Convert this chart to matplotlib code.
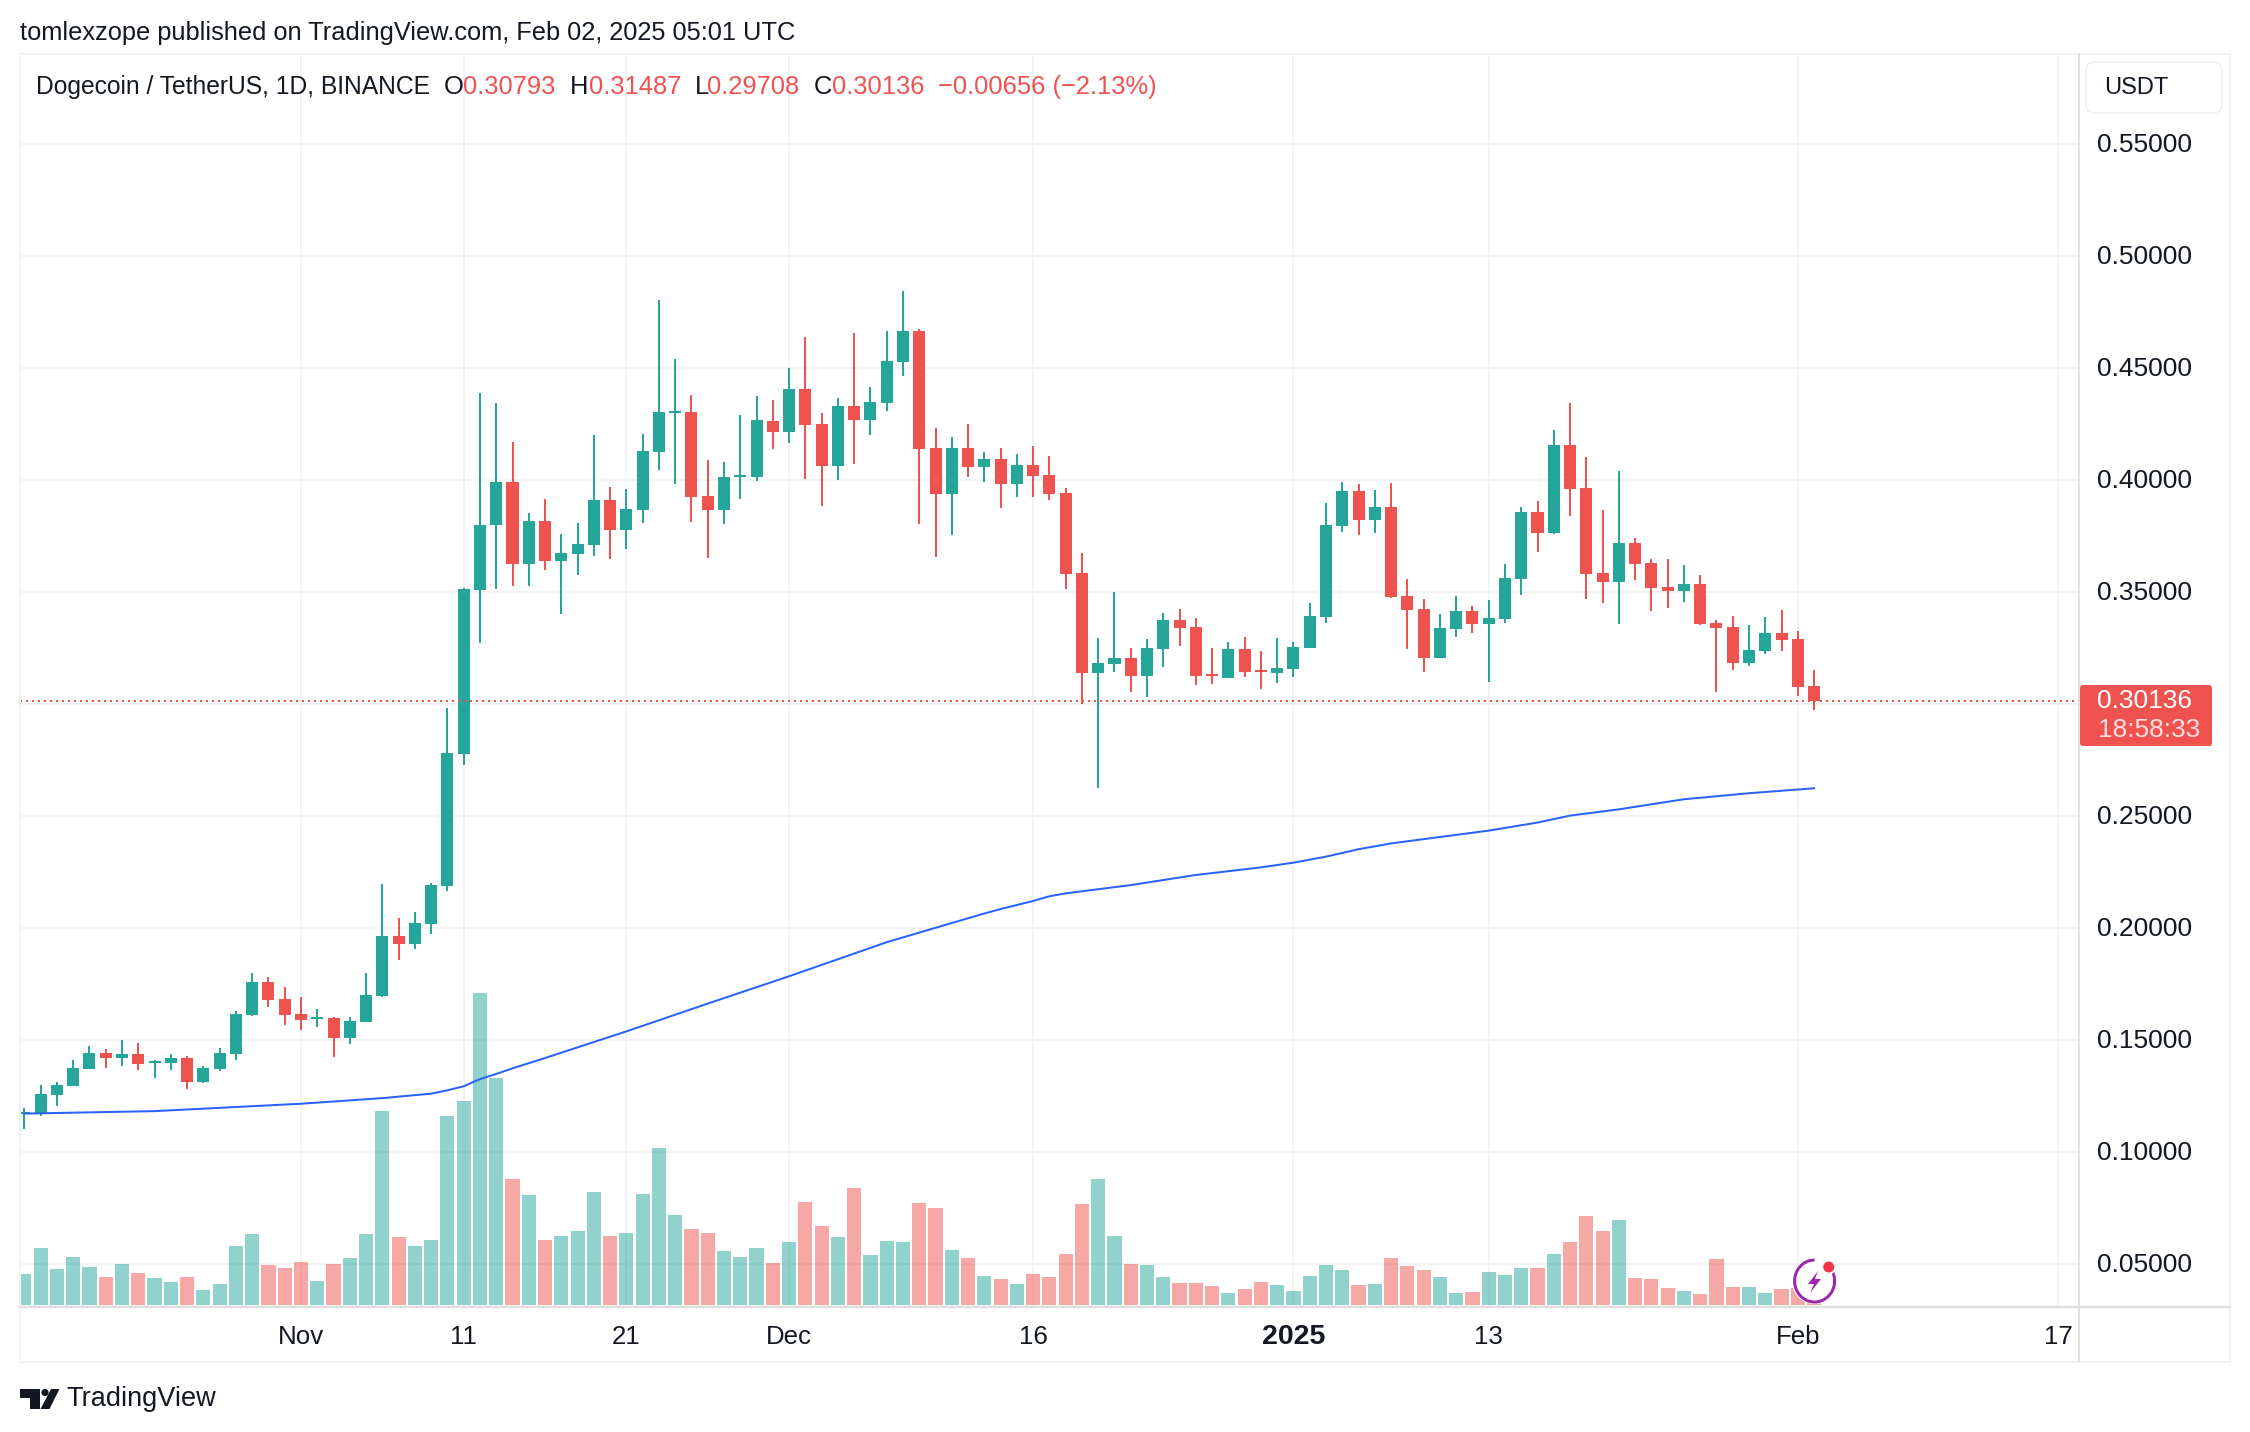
import numpy as np
import matplotlib
matplotlib.use("Agg")
import matplotlib.pyplot as plt
from matplotlib.patches import FancyBboxPatch, Polygon, Circle, Arc, Rectangle

opens = [.1166,.1166,.1252,.1292,.1369,.1440,.1418,.1435,.1398,.1395,
         .1418,.1311,.1369,.1435,.1609,.1756,.1682,.1614,.1594,.1596,
         .1506,.1579,.1695,.1962,.1927,.2017,.2187,.2777,.3507,.3798,
         .3990,.3624,.3815,.3637,.3668,.3708,.3909,.3775,.3865,.4124,
         .4298,.4302,.3927,.3865,.4012,.4012,.4262,.4213,.4405,.4249,
         .4061,.4329,.4266,.4342,.4525,.4664,.4141,.3936,.4141,.4057,
         .4092,.3981,.4065,.4021,.3940,.3583,.3137,.3177,.3204,.3124,
         .3244,.3374,.3342,.3132,.3115,.3244,.3150,.3137,.3155,.3249,
         .3387,.3793,.3949,.3820,.3878,.3481,.3423,.3204,.3333,.3414,
         .3356,.3378,.3557,.3856,.3762,.4155,.3963,.3583,.3543,.3717,
         .3628,.3521,.3503,.3534,.3360,.3342,.3182,.3235,.3316,.3289,.30793]
closes = [.1175,.1257,.1297,.1373,.1440,.1418,.1435,.1390,.1405,.1418,
          .1311,.1373,.1440,.1614,.1756,.1677,.1609,.1587,.1601,.1506,
          .1582,.1698,.1962,.1927,.2020,.2191,.2781,.3512,.3798,.3990,
          .3624,.3815,.3637,.3673,.3713,.3909,.3775,.3869,.4128,.4302,
          .4307,.3923,.3865,.4012,.4021,.4266,.4213,.4405,.4244,.4061,
          .4329,.4266,.4347,.4530,.4664,.4137,.3936,.4141,.4057,.4092,
          .3981,.4065,.4016,.3936,.3579,.3137,.3182,.3204,.3124,.3249,
          .3374,.3338,.3124,.3124,.3244,.3141,.3141,.3159,.3253,.3391,
          .3798,.3949,.3820,.3878,.3476,.3418,.3204,.3338,.3414,.3356,
          .3382,.3561,.3856,.3762,.4155,.3958,.3579,.3543,.3717,.3624,
          .3516,.3503,.3534,.3356,.3338,.3182,.3240,.3316,.3284,.3074,.30136]
highs = [.1195,.1297,.1309,.1408,.1471,.1458,.1498,.1485,.1408,.1435,
         .1427,.1382,.1463,.1627,.1798,.1780,.1735,.1690,.1637,.1601,
         .1601,.1798,.2194,.2043,.2070,.2201,.2980,.3516,.4387,.4342,
         .4168,.3851,.3914,.3757,.3807,.4199,.3967,.3958,.4204,.4802,
         .4539,.4378,.4088,.4079,.4289,.4373,.4356,.4498,.4637,.4298,
         .4365,.4655,.4414,.4664,.4842,.4673,.4231,.4190,.4249,.4124,
         .4141,.4115,.4150,.4106,.3963,.3673,.3293,.3499,.3249,.3289,
         .3405,.3423,.3382,.3249,.3275,.3298,.3235,.3293,.3275,.3449,
         .3896,.3990,.3981,.3954,.3985,.3557,.3467,.3400,.3481,.3436,
         .3463,.3624,.3878,.3905,.4222,.4342,.4101,.3865,.4039,.3740,
         .3646,.3646,.3619,.3574,.3374,.3391,.3351,.3387,.3418,.3324,.31487]
lows = [.1100,.1158,.1203,.1292,.1369,.1373,.1382,.1364,.1329,.1364,
        .1279,.1306,.1360,.1408,.1606,.1645,.1566,.1543,.1556,.1422,
        .1480,.1579,.1690,.1856,.1904,.1973,.2165,.2728,.3271,.3512,
        .3525,.3525,.3597,.3400,.3574,.3659,.3646,.3690,.3807,.4043,
        .3981,.3811,.3650,.3802,.3914,.3994,.4137,.4164,.4003,.3882,
        .3999,.4070,.4199,.4307,.4463,.3802,.3655,.3753,.4012,.3990,
        .3874,.3923,.3923,.3909,.3512,.2999,.2624,.3141,.3052,.3030,
        .3164,.3257,.3083,.3088,.3115,.3119,.3066,.3092,.3119,.3249,
        .3360,.3766,.3753,.3762,.3472,.3244,.3141,.3204,.3298,.3316,
        .3097,.3360,.3485,.3677,.3757,.3838,.3467,.3449,.3356,.3552,
        .3414,.3427,.3454,.3351,.3052,.3150,.3168,.3222,.3235,.3034,.29708]
volumes = [1.24,2.28,1.44,1.92,1.52,1.12,1.64,1.28,1.08,.92,
           1.12,.60,.84,2.36,2.84,1.60,1.48,1.72,.96,1.64,
           1.88,2.84,7.76,2.72,2.36,2.60,7.56,8.16,12.48,9.07,
           5.04,4.40,2.60,2.76,2.96,4.52,2.76,2.88,4.44,6.28,
           3.60,3.04,2.88,2.16,1.92,2.28,1.68,2.52,4.12,3.16,
           2.72,4.68,2.00,2.56,2.52,4.08,3.88,2.20,1.88,1.16,
           1.04,.84,1.24,1.12,2.04,4.04,5.04,2.76,1.64,1.60,
           1.12,.88,.88,.76,.48,.64,.92,.80,.56,1.16,
           1.60,1.40,.80,.84,1.88,1.56,1.40,1.12,.48,.52,
           1.32,1.20,1.48,1.48,2.04,2.52,3.56,2.96,3.40,1.08,
           1.04,.68,.56,.44,1.84,.72,.72,.48,.64,.68,.12]
ma_days = [0,8,17,22,25,26,27,28,29,30,32,37,42,47,53,58.7,60,62,63,64,68,72,76,78,80,82,84,90,93,95,98,102,106,110]
ma_values = [.1170,.1181,.1214,.1239,.1259,.1274,.1292,.1324,.1347,.1372,.1418,.1537,.1661,.1783,.1935,.2057,
             .2083,.2119,.2140,.2153,.2190,.2235,.2269,.2290,.2317,.2350,.2376,.2433,.2469,.2500,.2528,.2573,.2600,.2622]
tick_days = [17,27,37,47,62,78,90,109,125]
tick_labels = ["Nov","11","21","Dec","16","2025","13","Feb","17"]
price_ticks = [.05,.10,.15,.20,.25,.30,.35,.40,.45,.50,.55]
last_price = 0.30136

W, H = 2250, 1432
TEAL, RED, BLUE, INK, GRID, LINE = "#26a69a", "#ef5350", "#2962ff", "#131722", "#f3f3f3", "#e0e0e0"
FONT = "Liberation Sans"
plt.rcParams["font.family"] = [FONT, "DejaVu Sans"]
PX = 0.72
PPU = 2240.4

fig = plt.figure(figsize=(W/100, H/100), dpi=100, facecolor="white")
def axes_px(l, t, r, b, **kw):
    return fig.add_axes([l/W, 1-b/H, (r-l)/W, (b-t)/H], **kw)

# main price pane
L, R, T, B = 20, 2079, 53.5, 1306
ax = axes_px(L, T, R, B, zorder=1)
x_of = lambda px: (px-24.4)/16.27
ax.set_xlim(x_of(L), x_of(R))
ax.set_ylim(.55-(B-143.5)/PPU, .55+(143.5-T)/PPU)
for s in ax.spines.values():
    s.set_visible(False)
ax.set_axisbelow(True)
ax.grid(True, color=GRID, lw=2*PX)
ax.set_yticks(price_ticks)
ax.set_yticklabels([])
ax.set_xticks(tick_days)
ax.set_xticklabels([])
ax.tick_params(length=0)

# volume pane overlay
vax = axes_px(L, T, R, 1305, zorder=2)
vax.patch.set_alpha(0)
vax.set_xlim(x_of(L), x_of(R))
vax.set_ylim(0, (1305-T)*0.04)
vax.axis("off")

days = np.arange(len(opens))
o, h, l, c = map(np.array, (opens, highs, lows, closes))
up = c >= o
cols = [TEAL if u else RED for u in up]
vax.bar(days, volumes, width=0.87, color=cols, alpha=0.5, linewidth=0)

# candles
cax = axes_px(L, T, R, B, zorder=3)
cax.patch.set_alpha(0)
cax.set_xlim(ax.get_xlim()); cax.set_ylim(ax.get_ylim())
cax.axis("off")
cax.vlines(days, l, h, colors=cols, lw=2.0*PX, zorder=2)
cax.bar(days, np.abs(c-o), bottom=np.minimum(o, c), width=0.74, color=cols, linewidth=0, zorder=3)
cax.plot(ma_days, ma_values, color=BLUE, lw=2*PX, solid_joinstyle="round", zorder=4)
cax.axhline(last_price, color=RED, lw=2*PX, ls=(0, (1, 2)), zorder=5)

# overlay in pixels for chrome and labels
ov = fig.add_axes([0, 0, 1, 1], zorder=5)
ov.set_xlim(0, W); ov.set_ylim(H, 0)
ov.patch.set_alpha(0); ov.axis("off")
ov.add_patch(Rectangle((20, 53.5), 2210, 1308, fill=False, ec="#f2f2f2", lw=2*PX))
ov.plot([2079, 2079], [53.5, 1361], color=LINE, lw=2*PX)
ov.plot([20, 2230], [1307, 1307], color=LINE, lw=2.5*PX)

FS = 19
for d, lab in zip(tick_days, tick_labels):
    bold = lab == "2025"
    ov.text(24.4+16.27*d, 1336.5, lab, ha="center", va="center", color=INK, fontsize=20.5 if bold else 18.6,
            fontweight="bold" if bold else "normal")
for p in price_ticks:
    if p == .30:
        continue
    ov.text(2097, 143.5+(.55-p)*PPU+1.5, f"{p:.5f}", ha="left", va="center", color=INK, fontsize=FS)

# price label
ov.add_patch(FancyBboxPatch((2080, 685), 132, 61, boxstyle="round,pad=0,rounding_size=3", fc=RED, ec="none"))
ov.text(2097, 701.5, f"{last_price:.5f}", ha="left", va="center", color="white", fontsize=FS)
ov.text(2098, 730, "18:58:33", ha="left", va="center", color="#ffdede", fontsize=FS)

# currency button
ov.add_patch(FancyBboxPatch((2086, 62), 136, 51, boxstyle="round,pad=0,rounding_size=9", fc="white", ec="#f0f0f0", lw=1.5*PX))
ov.text(2104, 88.5, "USDT", ha="left", va="center", color=INK, fontsize=17)

# header and legend
ov.text(20.5, 33, "tomlexzope published on TradingView.com, Feb 02, 2025 05:01 UTC", ha="left", va="center", color=INK, fontsize=18.25)
YL = 87
ov.text(36.5, YL, "Dogecoin / TetherUS, 1D, BINANCE", ha="left", va="center", color=INK, fontsize=17.7)
for x, s, col in [(444, "O", INK), (463.5, "0.30793", RED), (570, "H", INK), (589, "0.31487", RED),
                  (695, "L", INK), (707, "0.29708", RED), (813.5, "C", INK), (832, "0.30136", RED),
                  (937.5, "\u22120.00656 (\u22122.13%)", RED)]:
    ov.text(x, YL, s, ha="left", va="center", color=col, fontsize=18.4)

# TradingView logo
ov.add_patch(Polygon([(20, 1389), (40, 1389), (40, 1409), (30, 1409), (30, 1398), (20, 1398)], fc=INK, ec="none"))
ov.add_patch(Circle((45, 1392.5), 3.6, fc=INK, ec="none"))
ov.add_patch(Polygon([(51, 1389), (59.5, 1389), (49.5, 1409), (40.5, 1409)], fc=INK, ec="none"))
ov.text(66, 1399.5, "TradingView", ha="left", va="center", color=INK, fontsize=19.5)

# flash badge
ov.add_patch(Circle((1814.6, 1281), 23, fc="white", ec="none"))
ov.add_patch(Arc((1814.6, 1281), 40, 42, theta1=-50, theta2=270, ec="#9c27b0", lw=3*PX))
ov.add_patch(Polygon([(1818, 1271), (1808, 1284), (1814, 1284), (1810, 1293), (1821, 1279), (1815, 1279)], fc="#9c27b0", ec="none"))
ov.add_patch(Circle((1828.7, 1267), 7.5, fc="white", ec="none"))
ov.add_patch(Circle((1828.7, 1267), 5.5, fc="#f23645", ec="none"))

fig.savefig("out.png", dpi=100, facecolor="white")
